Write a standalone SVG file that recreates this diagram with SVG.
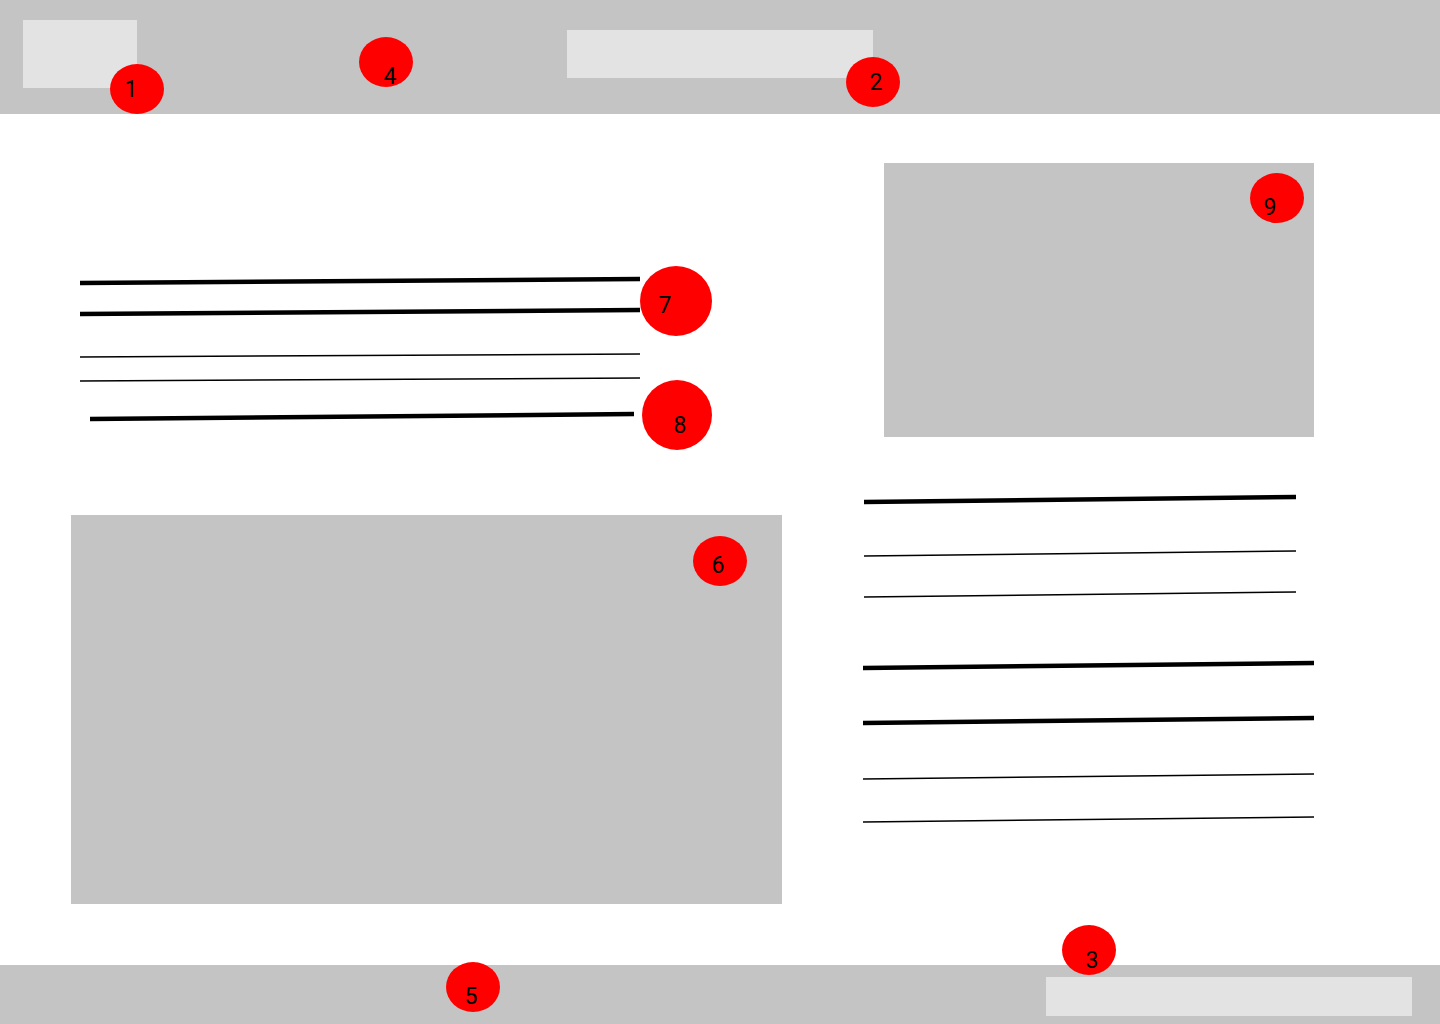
<svg xmlns="http://www.w3.org/2000/svg" width="1440" height="1024" viewBox="0 0 1440 1024">
<style>
.bar{fill:#c4c4c4}
.ph{fill:#e3e3e3}
.box{fill:#c4c4c4}
.badge{fill:#ff0000}
.num{font-family:Roboto,"Noto Sans",sans-serif;font-size:23px;fill:#000;text-anchor:middle}
.thick{stroke:#000;stroke-width:4.5;fill:none}
.thin{stroke:#000;stroke-width:1.6;fill:none}
</style>
<rect width="1440" height="1024" fill="#ffffff"/>
<g id="header">
<rect class="bar" x="0" y="0" width="1440" height="114"/>
<rect class="ph" x="23" y="20" width="114" height="68"/>
<rect class="ph" x="567" y="30" width="306" height="48"/>
</g>
<g id="footer">
<rect class="bar" x="0" y="965" width="1440" height="59"/>
<rect class="ph" x="1046" y="977" width="366" height="39"/>
</g>
<g id="box-main">
<rect class="box" x="71" y="515" width="711" height="389"/>
</g>
<g id="box-side">
<rect class="box" x="884" y="163" width="430" height="274"/>
</g>
<g id="lines">
<line class="thick" x1="80" y1="283" x2="640" y2="279"/>
<line class="thick" x1="80" y1="314" x2="640" y2="310"/>
<line class="thin" x1="80" y1="357" x2="640" y2="354"/>
<line class="thin" x1="80" y1="381" x2="640" y2="378"/>
<line class="thick" x1="90" y1="419" x2="634" y2="414"/>
<line class="thick" x1="864" y1="502" x2="1296" y2="497"/>
<line class="thin" x1="864" y1="556" x2="1296" y2="551"/>
<line class="thin" x1="864" y1="597" x2="1296" y2="592"/>
<line class="thick" x1="863" y1="668" x2="1314" y2="663"/>
<line class="thick" x1="863" y1="723" x2="1314" y2="718"/>
<line class="thin" x1="863" y1="779" x2="1314" y2="774"/>
<line class="thin" x1="863" y1="822" x2="1314" y2="817"/>
</g>
<g id="badge-1"><ellipse class="badge" cx="137" cy="89" rx="27" ry="25"/><text class="num" x="131" y="97">1</text></g>
<g id="badge-2"><ellipse class="badge" cx="873" cy="82" rx="27" ry="25"/><text class="num" x="876" y="90">2</text></g>
<g id="badge-3"><ellipse class="badge" cx="1089" cy="950" rx="27" ry="25"/><text class="num" x="1092" y="968">3</text></g>
<g id="badge-4"><ellipse class="badge" cx="386" cy="62" rx="27" ry="25"/><text class="num" x="390" y="84">4</text></g>
<g id="badge-5"><ellipse class="badge" cx="473" cy="987" rx="27" ry="25"/><text class="num" x="471" y="1004">5</text></g>
<g id="badge-6"><ellipse class="badge" cx="720" cy="561" rx="27" ry="25"/><text class="num" x="718" y="573">6</text></g>
<g id="badge-7"><ellipse class="badge" cx="676" cy="301" rx="36" ry="35"/><text class="num" x="665" y="313">7</text></g>
<g id="badge-8"><ellipse class="badge" cx="677" cy="415" rx="35" ry="35"/><text class="num" x="680" y="433">8</text></g>
<g id="badge-9"><ellipse class="badge" cx="1277" cy="198" rx="27" ry="25"/><text class="num" x="1270" y="215">9</text></g>
</svg>
